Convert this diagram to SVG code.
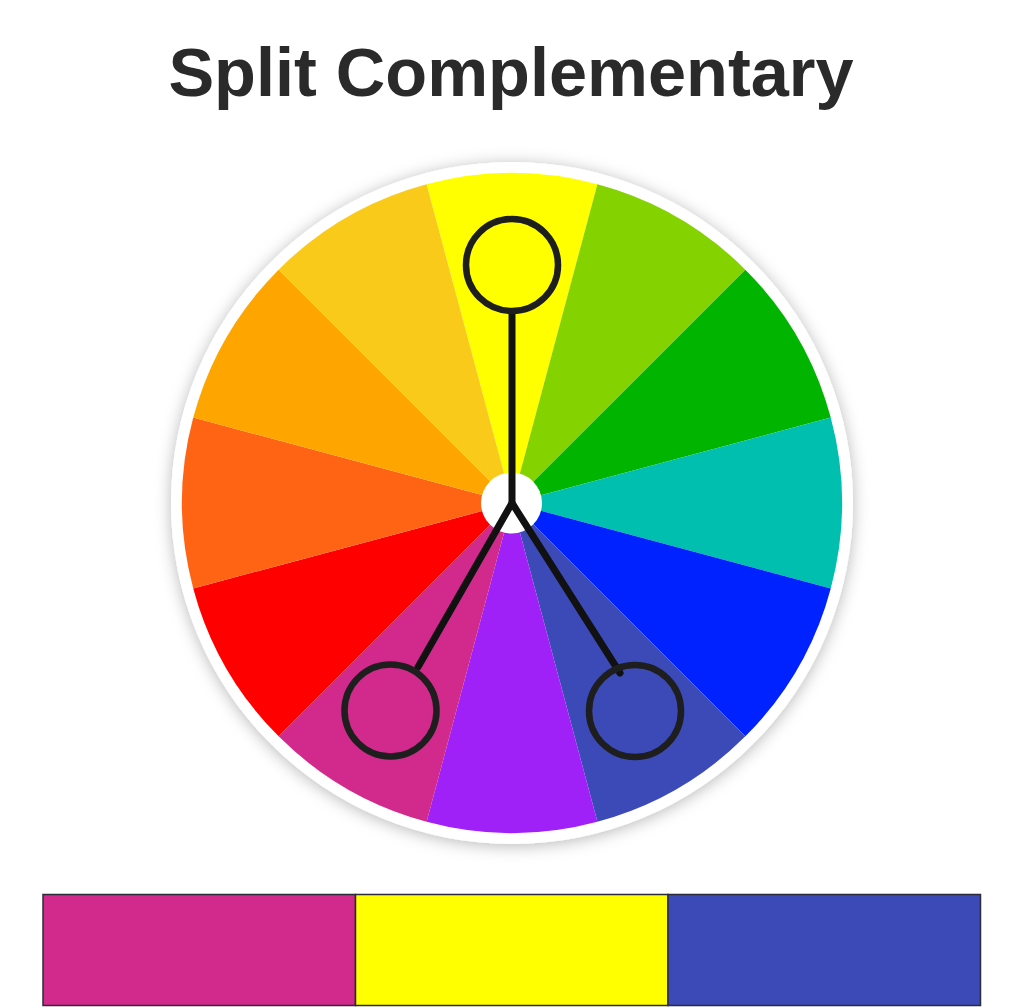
<svg xmlns="http://www.w3.org/2000/svg" width="1024" height="1007" viewBox="0 0 1024 1007">
<defs>
<filter id="sh" x="-10%" y="-10%" width="120%" height="120%">
<feDropShadow dx="0" dy="2" stdDeviation="8" flood-color="#000" flood-opacity="0.28"/>
</filter>
</defs>
<style>
.title{font-family:"Liberation Sans",Arial,sans-serif;font-weight:bold;font-size:68.5px;fill:#2a2a2a}
.ring{fill:none;stroke:#1e1e1e;stroke-width:6.5}
.conn{fill:none;stroke:#111;stroke-width:7;stroke-linecap:round;stroke-linejoin:round}
.bar{stroke:#2b2b3a;stroke-width:1.5}
</style>
<rect width="1024" height="1007" fill="#fff"/>
<text class="title" x="511" y="96" text-anchor="middle">Split Complementary</text>
<g id="wheel">
<circle cx="512" cy="503" r="341" fill="#fff" filter="url(#sh)"/>
<path d="M512 503 L426.59 184.24 A330 330 0 0 1 597.41 184.24 Z" fill="#FFFF00"/>
<path d="M512 503 L597.41 184.24 A330 330 0 0 1 745.35 269.65 Z" fill="#84D200"/>
<path d="M512 503 L745.35 269.65 A330 330 0 0 1 830.76 417.59 Z" fill="#00B400"/>
<path d="M512 503 L830.76 417.59 A330 330 0 0 1 830.76 588.41 Z" fill="#00BFAE"/>
<path d="M512 503 L830.76 588.41 A330 330 0 0 1 745.35 736.35 Z" fill="#0022FF"/>
<path d="M512 503 L745.35 736.35 A330 330 0 0 1 597.41 821.76 Z" fill="#3C4AB8"/>
<path d="M512 503 L597.41 821.76 A330 330 0 0 1 426.59 821.76 Z" fill="#A020F8"/>
<path d="M512 503 L426.59 821.76 A330 330 0 0 1 278.65 736.35 Z" fill="#D12A8C"/>
<path d="M512 503 L278.65 736.35 A330 330 0 0 1 193.24 588.41 Z" fill="#FF0000"/>
<path d="M512 503 L193.24 588.41 A330 330 0 0 1 193.24 417.59 Z" fill="#FF6314"/>
<path d="M512 503 L193.24 417.59 A330 330 0 0 1 278.65 269.65 Z" fill="#FFA500"/>
<path d="M512 503 L278.65 269.65 A330 330 0 0 1 426.59 184.24 Z" fill="#FACA1B"/>
<circle cx="511.5" cy="503" r="30.5" fill="#fff"/>
</g>
<g id="connectors">
<path class="conn" d="M512 312 L512 503 L418 667"/>
<path class="conn" d="M512 503 L620 673"/>
</g>
<g id="node-yellow"><circle class="ring" cx="512" cy="265" r="46"/></g>
<g id="node-magenta"><circle class="ring" cx="390.5" cy="710.5" r="46"/></g>
<g id="node-blue"><circle class="ring" cx="635" cy="711" r="46"/></g>
<g id="palette">
<rect class="bar" x="43" y="894.5" width="312.5" height="111" fill="#D12A8C"/>
<rect class="bar" x="355.5" y="894.5" width="312.5" height="111" fill="#FFFF00"/>
<rect class="bar" x="668" y="894.5" width="312.5" height="111" fill="#3C4AB8"/>
</g>
</svg>
